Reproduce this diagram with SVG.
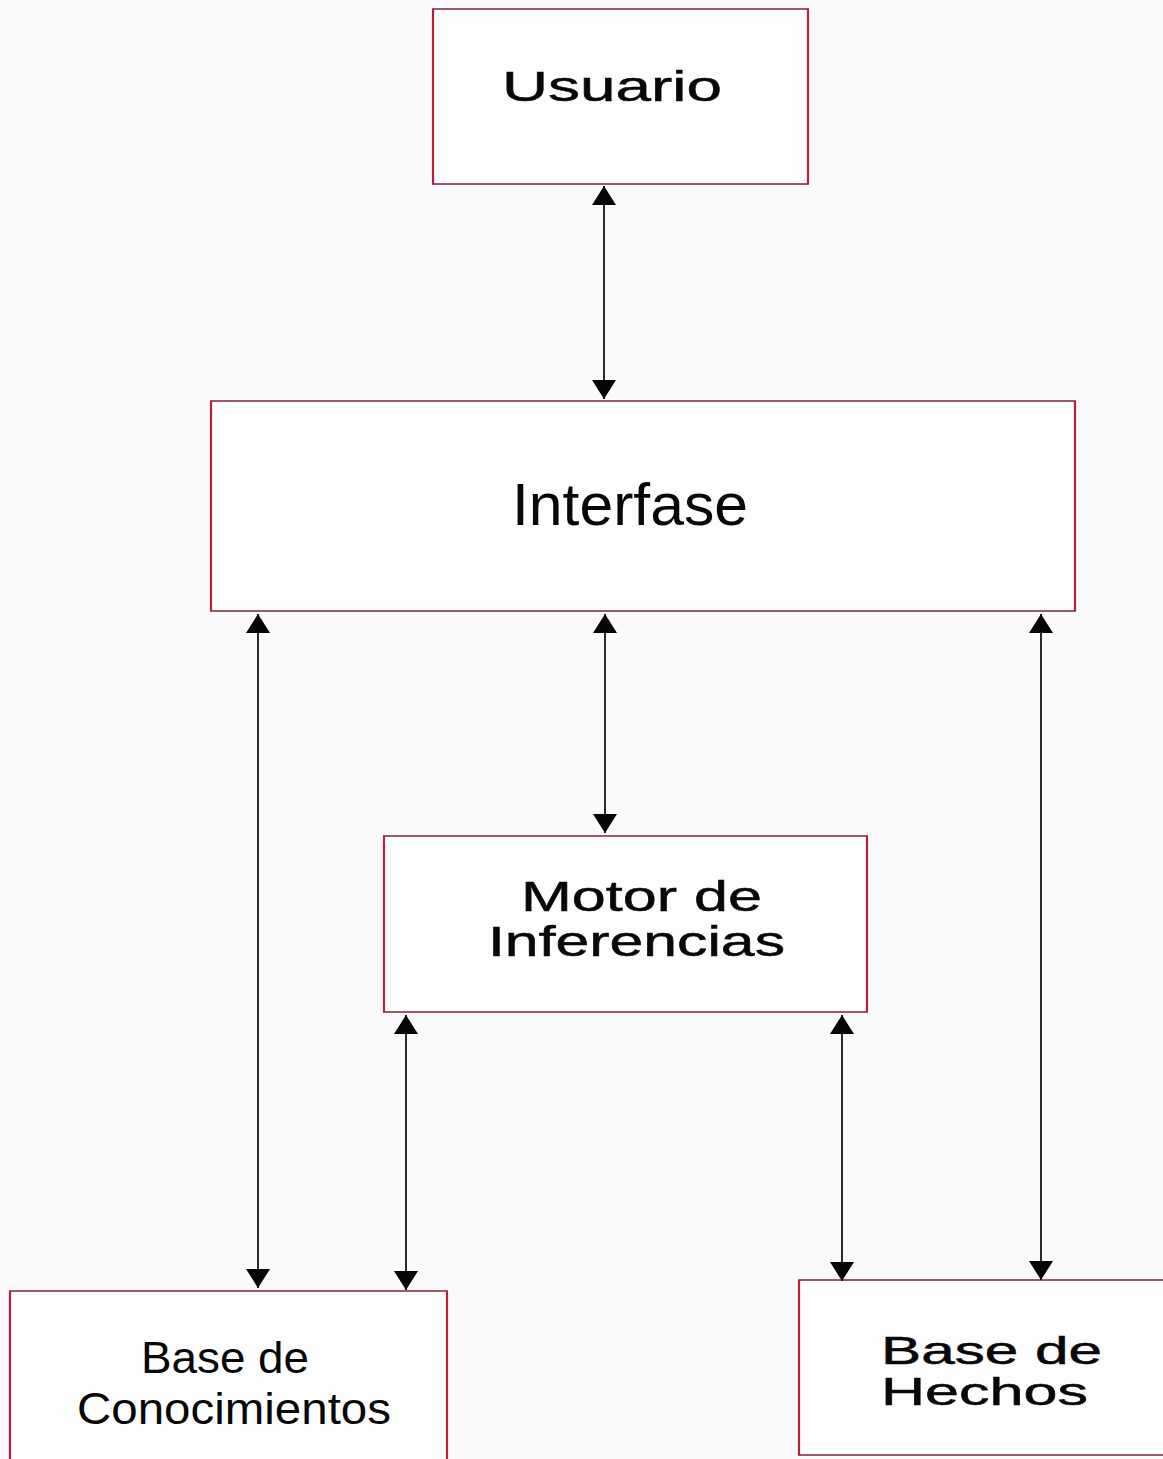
<svg xmlns="http://www.w3.org/2000/svg" width="1163" height="1459" viewBox="0 0 1163 1459">
  <defs>
    <style>
      .bg { fill: #fafafc; }
      .box { fill: #fdfdfe; stroke: #9a5a66; stroke-width: 2; }
      .side { stroke: #b3243c; stroke-width: 2.2; fill: none; }
      .lbl { font-family: "Liberation Sans", Arial, sans-serif; fill: #080808; }
      .wide { stroke: #080808; stroke-width: 0.5; }
      .wire { stroke: #2a2a2a; stroke-width: 2; fill: none; marker-start: url(#head); marker-end: url(#head); }
    </style>
    <marker id="head" viewBox="0 0 19 24" refX="19" refY="12" markerWidth="19" markerHeight="24" markerUnits="userSpaceOnUse" orient="auto-start-reverse">
      <path d="M0,0 L19,12 L0,24 Z" fill="#050505"/>
    </marker>
  </defs>

  <rect class="bg" x="0" y="0" width="1163" height="1459"/>

  <!-- Usuario -->
  <g id="usuario">
    <rect class="box" x="433" y="9" width="375" height="175"/>
    <path class="side" d="M433,9 V184 M808,9 V184"/>
    <text class="lbl wide" x="502" y="101" font-size="43" textLength="220" lengthAdjust="spacingAndGlyphs">Usuario</text>
  </g>

  <!-- Interfase -->
  <g id="interfase">
    <rect class="box" x="211" y="401" width="864" height="210"/>
    <path class="side" d="M211,401 V611 M1075,401 V611"/>
    <text class="lbl" x="512" y="525" font-size="60" textLength="236" lengthAdjust="spacingAndGlyphs">Interfase</text>
  </g>

  <!-- Motor de Inferencias -->
  <g id="motor">
    <rect class="box" x="384" y="836" width="483" height="176"/>
    <path class="side" d="M384,836 V1012 M867,836 V1012"/>
    <text class="lbl wide" x="521" y="911" font-size="42" textLength="241" lengthAdjust="spacingAndGlyphs">Motor de</text>
    <text class="lbl wide" x="488" y="956" font-size="42" textLength="297" lengthAdjust="spacingAndGlyphs">Inferencias</text>
  </g>

  <!-- Base de Conocimientos -->
  <g id="base-conocimientos">
    <rect class="box" x="10" y="1291" width="437" height="180"/>
    <path class="side" d="M10,1291 V1459 M447,1291 V1459"/>
    <text class="lbl" x="141" y="1373" font-size="45" textLength="168" lengthAdjust="spacingAndGlyphs">Base de</text>
    <text class="lbl" x="77" y="1424" font-size="45" textLength="314" lengthAdjust="spacingAndGlyphs">Conocimientos</text>
  </g>

  <!-- Base de Hechos -->
  <g id="base-hechos">
    <rect class="box" x="799" y="1280" width="380" height="175"/>
    <path class="side" d="M799,1280 V1455"/>
    <text class="lbl wide" x="881" y="1364" font-size="38" textLength="221" lengthAdjust="spacingAndGlyphs">Base de</text>
    <text class="lbl wide" x="881" y="1405" font-size="38" textLength="207" lengthAdjust="spacingAndGlyphs">Hechos</text>
  </g>

  <!-- Connectors -->
  <g id="connectors">
    <line class="wire" x1="604" y1="186" x2="604" y2="399"/>
    <line class="wire" x1="258" y1="614" x2="258" y2="1288"/>
    <line class="wire" x1="605" y1="614" x2="605" y2="833"/>
    <line class="wire" x1="1041" y1="614" x2="1041" y2="1280"/>
    <line class="wire" x1="406" y1="1015" x2="406" y2="1290"/>
    <line class="wire" x1="842" y1="1015" x2="842" y2="1281"/>
  </g>
</svg>
